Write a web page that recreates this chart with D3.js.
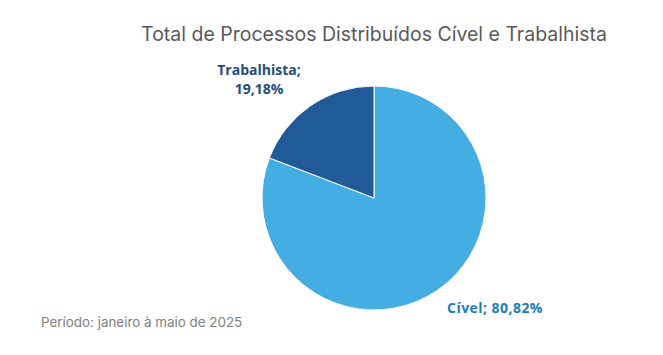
<!DOCTYPE html>
<html><head><meta charset="utf-8">
<script src="https://cdn.jsdelivr.net/npm/d3@7"></script>
<style>html,body{margin:0;padding:0;background:#fff;}</style>
</head><body>
<svg id="chart" width="663" height="355"></svg>
<script>
const categories = ["Cível", "Trabalhista"];
const values = [80.82, 19.18];
const labels = ["Cível; 80,82%", "Trabalhista;|19,18%"];
const colors = ["#44ADE2", "#205A98"];
const labelColors = ["#1E7DB4", "#1F4E79"];

const svg = d3.select("#chart");
svg.append("rect").attr("width", 663).attr("height", 355).attr("fill", "#fff");

svg.append("text").attr("x", 374).attr("y", 41).attr("text-anchor", "middle")
  .attr("font-family", "Inter, 'Open Sans', sans-serif").attr("font-size", 19.5)
  .attr("fill", "#595959").text("Total de Processos Distribuídos Cível e Trabalhista");

const cx = 374, cy = 198, r = 112;
const pie = d3.pie().sort(null).value(d => d.v);
const data = pie(categories.map((c, i) => ({c, v: values[i], i})));
const arc = d3.arc().innerRadius(0).outerRadius(r);
const g = svg.append("g").attr("transform", `translate(${cx},${cy})`);
g.selectAll("path").data(data).join("path")
  .attr("d", arc).attr("fill", d => colors[d.data.i])
  .attr("stroke", "#fff").attr("stroke-width", 1);

const labelPos = [[495, 313], [259, 75]];
const spacing = [0.45, 0];
data.forEach((d, i) => {
  const lines = labels[i].split("|");
  const t = svg.append("text").attr("text-anchor", "middle")
    .attr("font-family", "'Open Sans', sans-serif").attr("font-weight", "bold")
    .attr("font-size", 14).attr("letter-spacing", spacing[i]).attr("fill", labelColors[i]);
  lines.forEach((l, k) => t.append("tspan").attr("x", labelPos[i][0])
    .attr("y", labelPos[i][1] + k * 19).text(l));
});

svg.append("text").attr("x", 41).attr("y", 327)
  .attr("font-family", "Inter, 'Open Sans', sans-serif").attr("font-size", 13.4)
  .attr("fill", "#7F7F7F").text("Período: janeiro à maio de 2025");
</script>
</body></html>
